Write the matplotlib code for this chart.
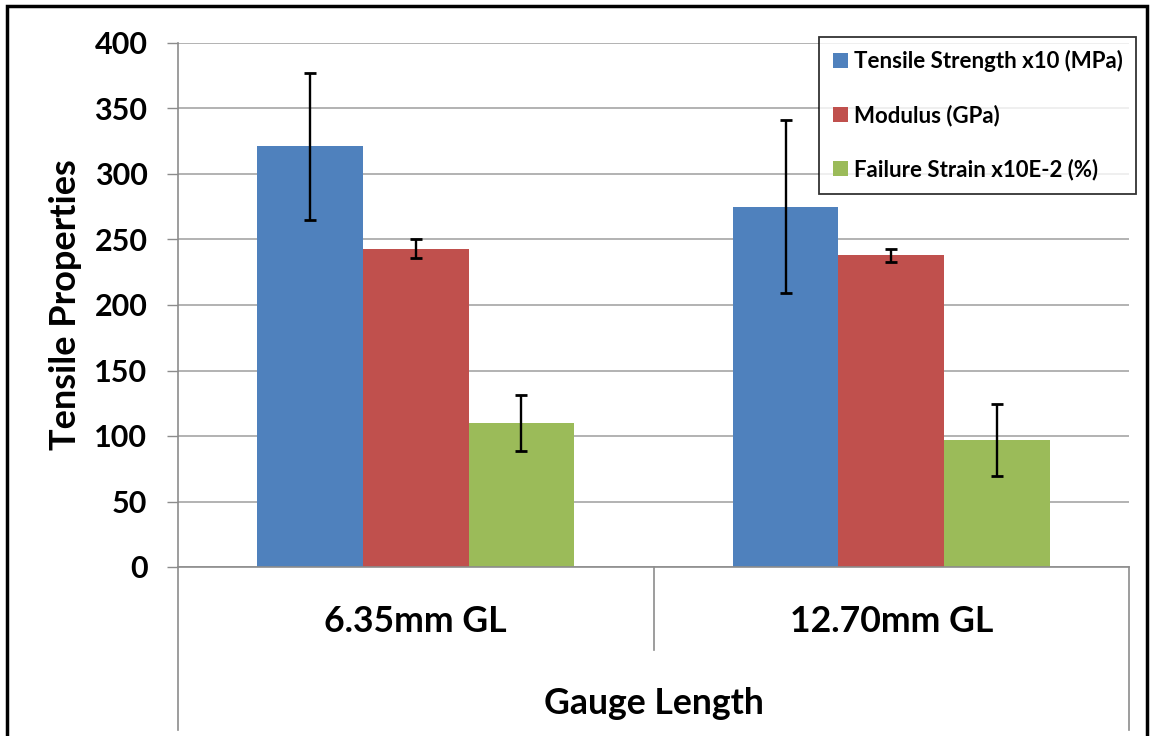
import matplotlib
matplotlib.use("Agg")
import matplotlib.pyplot as plt
from matplotlib.lines import Line2D
from matplotlib.patches import Rectangle
import matplotlib.transforms as mtransforms
import numpy as np

plt.rcParams['font.family'] = ['Lato', 'DejaVu Sans']
plt.rcParams['font.weight'] = 'bold'

categories = ["6.35mm GL", "12.70mm GL"]
series_names = ["Tensile Strength x10 (MPa)", "Modulus (GPa)", "Failure Strain x10E-2 (%)"]
strength = [321, 275]
strength_err = [56, 66]
modulus = [243, 238]
modulus_err = [7, 5]
strain = [110, 97]
strain_err = [21.5, 27.5]
colors = ["#4F81BD", "#C0504D", "#9BBB59"]
y_ticks = [0, 50, 100, 150, 200, 250, 300, 350, 400]

W, H = 1152, 736
fig = plt.figure(figsize=(W / 100, H / 100), dpi=100)
ax = fig.add_axes([178 / W, 1 - 567 / H, (1129 - 178) / W, (567 - 43) / H])

x = np.arange(len(categories))
bw = 1 / 4.5
values = [strength, modulus, strain]
errors = [strength_err, modulus_err, strain_err]
for i, (vals, errs, col, name) in enumerate(zip(values, errors, colors, series_names)):
    ax.bar(x + (i - 1) * bw, vals, width=bw, color=col, label=name, zorder=2)
    ax.errorbar(x + (i - 1) * bw, vals, yerr=errs, fmt='none', ecolor='black',
                elinewidth=1.7, capsize=4, capthick=2, zorder=3)

ax.set_xlim(-0.5, len(categories) - 0.5)
ax.set_ylim(0, 400)
ax.set_yticks(y_ticks)
ax.set_yticklabels([str(t) for t in y_ticks], fontsize=22, fontweight='bold')
ax.tick_params(axis='y', length=8, width=1, color='#8C8C8C', pad=14)
ax.set_xticks([])
ax.yaxis.grid(True, color='#A6A6A6', linewidth=1.2, zorder=0)
ax.set_axisbelow(True)

for s in ['top', 'right']:
    ax.spines[s].set_visible(False)
for s in ['left', 'bottom']:
    ax.spines[s].set_color('#8C8C8C')
    ax.spines[s].set_linewidth(1.2)

# Multi-level category axis: divider lines below the plot area
trans = mtransforms.blended_transform_factory(ax.transData, ax.transAxes)
long_drop = (567 - 730) / 524
short_drop = (567 - 650) / 524
for xv, yb in [(-0.5, long_drop), (0.5, short_drop), (1.5, long_drop)]:
    ax.add_line(Line2D([xv, xv], [0, yb], transform=trans, color='#8C8C8C',
                       linewidth=1.2, clip_on=False))

for xi, cat in zip(x, categories):
    ax.text(xi, (567 - 622) / 524, cat, transform=trans, ha='center', va='center',
            fontsize=25.7, fontweight='bold')
ax.text(0.5, (567 - 703) / 524, "Gauge Length", transform=trans, ha='center',
        va='center', fontsize=25.7, fontweight='bold')

ax.set_ylabel("Tensile Properties", fontsize=26, fontweight='bold')
ax.yaxis.set_label_coords((82 - 178) / (1129 - 178), 0.5)

leg = ax.legend(loc='upper right', bbox_to_anchor=(1136 / W, 1 - 37 / H),
                bbox_transform=fig.transFigure, fontsize=16, frameon=True,
                fancybox=False, labelspacing=1.45, handlelength=0.7,
                handleheight=0.7, handletextpad=0.25, borderpad=0.6,
                borderaxespad=0)
leg.get_frame().set_edgecolor('black')
leg.get_frame().set_linewidth(1.3)
for t in leg.get_texts():
    t.set_fontweight('bold')

# Outer frame
fig.add_artist(Rectangle((7 / W, -0.02), (1147 - 7) / W, 1.02 - 6 / H,
                         transform=fig.transFigure, fill=False,
                         edgecolor='black', linewidth=2.5))

fig.savefig("out.png", dpi=100, facecolor='white')
